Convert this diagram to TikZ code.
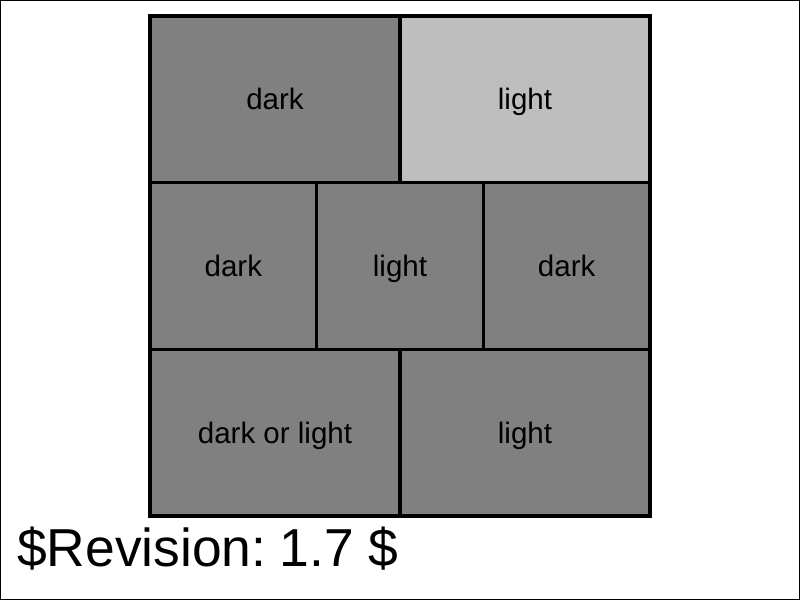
\documentclass[tikz,border=0pt]{standalone}
\usepackage{fontspec}
\setmainfont{Liberation Sans}
\usetikzlibrary{positioning}
\definecolor{cellgray}{HTML}{808080}
\definecolor{cellpale}{HTML}{BEBEBE}
\tikzset{
  cell/.style={fill=cellgray, inner sep=0pt, outer sep=0pt, minimum height=41.667mm,
    text height=15pt, text depth=0pt, font=\fontsize{21}{24}\selectfont},
  wide/.style={cell, minimum width=62.5mm},
  narrow/.style={cell, minimum width=41.667mm},
  pale/.style={fill=cellpale},
  edge/.style={draw=black, line width=2.5pt},
}
\begin{document}
\begin{tikzpicture}
    \useasboundingbox (0,0) rectangle (20,15);
    \draw[line width=0.7pt] (0.0125,0.0125) rectangle (19.9875,14.9875);
    % top row
    \node[wide] (tl) at (6.875,12.5167) {dark};
    \node[wide, pale] (tr) at (13.125,12.5167) {light};
    % middle row
    \node[narrow] (ml) at (5.8333,8.35) {dark};
    \node[narrow] (mc) at (10,8.35) {light};
    \node[narrow] (mr) at (14.1667,8.35) {dark};
    % bottom row
    \node[wide] (bl) at (6.875,4.1833) {dark or light};
    \node[wide] (br) at (13.125,4.1833) {light};
    % borders on top of all fills
    \foreach \c in {tl,tr,ml,mc,mr,bl,br}
      \draw[edge] (\c.north west) rectangle (\c.south east);
    \node[anchor=base west, inner sep=0pt, font=\fontsize{38}{42}\selectfont] (rev) at (0.42,0.83) {\$Revision:\kern-0.12em{} 1.7 \$};
\end{tikzpicture}
\end{document}
